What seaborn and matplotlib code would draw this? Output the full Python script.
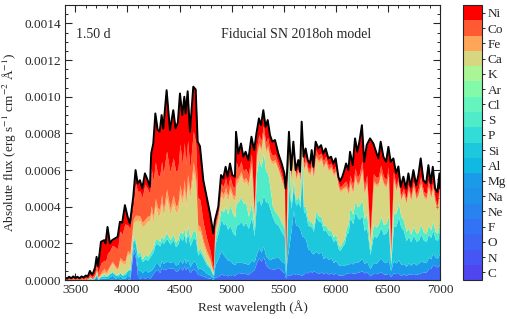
import numpy as np
import seaborn as sns
import matplotlib.pyplot as plt
from matplotlib.colors import ListedColormap, BoundaryNorm
from matplotlib.ticker import MultipleLocator, FormatStrFormatter
import matplotlib as mpl

sns.set_style("ticks")
plt.rcParams['font.family'] = ['Liberation Serif', 'DejaVu Serif']
plt.rcParams['mathtext.fontset'] = 'stix'

# element names (bottom -> top of colorbar)
elements = ['C', 'N', 'O', 'F', 'Ne', 'Na', 'Mg', 'Al', 'Si', 'P',
            'S', 'Cl', 'Ar', 'K', 'Ca', 'Fe', 'Co', 'Ni']
element_colors = ['#5046f0', '#4656f5', '#3c64f5', '#3273f5', '#2882f0', '#1e91eb',
                  '#1a9ae8', '#0fb9e1', '#1ec8dc', '#32dcd7', '#50ebc8', '#64f5be',
                  '#82faaa', '#aaf596', '#d7d782', '#ffa55a', '#ff5a32', '#ff0000']

# rest wavelength (A)
wavelength = [
    3400, 3420, 3440, 3460, 3480, 3500, 3520, 3540, 3560, 3580,
    3600, 3620, 3640, 3660, 3672, 3690, 3704, 3718, 3746, 3778,
    3790, 3809, 3832, 3854, 3880, 3906, 3928, 3950, 3976, 4002,
    4024, 4056, 4078, 4098, 4120, 4142, 4168, 4194, 4216, 4228,
    4248, 4268, 4290, 4310, 4328, 4344, 4376, 4408, 4440, 4462,
    4484, 4504, 4526, 4546, 4558, 4578, 4600, 4632, 4655, 4674,
    4696, 4728, 4760, 4792, 4808, 4824, 4840, 4872, 4898, 4920,
    4942, 4962, 4984, 5006, 5032, 5042, 5064, 5090, 5112, 5134,
    5160, 5190, 5216, 5238, 5262, 5282, 5304, 5326, 5346, 5368,
    5390, 5416, 5448, 5480, 5506, 5518, 5531, 5550, 5570, 5592,
    5614, 5640, 5656, 5672, 5690, 5710, 5730, 5752, 5768, 5784,
    5806, 5832, 5858, 5880, 5902, 5928, 5954, 5976, 5998, 6024,
    6040, 6062, 6082, 6098, 6120, 6136, 6162, 6184, 6206, 6226,
    6250, 6272, 6296, 6328, 6360, 6386, 6408, 6430, 6456, 6482,
    6504, 6526, 6552, 6578, 6600, 6622, 6648, 6674, 6696, 6718,
    6744, 6770, 6792, 6814, 6840, 6866, 6888, 6910, 6930, 6952,
    6974, 6994, 7000]

# total flux (1e-4 erg/s/cm2/A)
total_flux = [
    0.15, 0.08, 0.18, 0.10, 0.20, 0.12, 0.18, 0.10, 0.20, 0.14,
    0.25, 0.20, 0.50, 0.30, 0.40, 0.70, 1.27, 0.75, 2.09, 2.18,
    2.00, 2.90, 2.00, 2.18, 2.27, 2.36, 3.18, 3.13, 4.09, 3.45,
    3.09, 4.55, 6.00, 5.27, 5.45, 5.00, 5.82, 5.45, 5.09, 6.90,
    7.45, 9.09, 8.20, 8.10, 9.00, 8.27, 10.36, 8.18, 9.27, 8.27,
    8.60, 10.18, 9.00, 10.00, 9.09, 10.30, 8.09, 10.55, 10.40, 7.55,
    7.30, 5.45, 4.55, 3.64, 3.10, 2.55, 3.27, 4.00, 5.73, 5.55,
    6.18, 5.64, 6.36, 5.73, 5.64, 8.09, 6.90, 7.45, 6.73, 7.00,
    6.55, 7.82, 7.09, 8.00, 8.82, 8.45, 9.27, 8.36, 8.73, 7.91,
    7.55, 7.64, 6.90, 6.36, 5.82, 5.00, 5.82, 8.09, 6.00, 7.55,
    6.00, 6.55, 5.91, 8.64, 6.73, 7.18, 6.55, 6.36, 7.09, 6.18,
    7.55, 7.18, 7.36, 6.90, 7.18, 6.64, 6.73, 6.36, 6.64, 5.64,
    5.40, 5.64, 6.00, 6.36, 6.00, 7.00, 6.27, 7.73, 7.00, 7.55,
    8.45, 6.45, 7.36, 7.73, 7.45, 7.00, 6.64, 7.55, 6.73, 6.45,
    7.27, 6.45, 6.64, 5.82, 6.20, 5.09, 5.64, 5.00, 5.82, 5.09,
    6.00, 5.18, 5.73, 6.64, 5.45, 5.27, 6.27, 5.27, 6.18, 5.00,
    4.80, 5.82, 5.00]

# share of each element in the flux (percent)
frac_O = [
    0, 0, 0, 0, 0, 0, 0, 0, 0, 0,
    0, 0, 0, 0, 0, 0, 5, 0, 0, 0,
    0, 0, 2, 2, 0, 0, 2, 0, 0, 2,
    2, 35, 20, 3, 2, 3, 2, 3, 2, 3,
    5, 6, 7, 5, 8, 7, 6, 8, 7, 6,
    6, 7, 6, 8, 6, 7, 5, 6, 5, 4,
    4, 4, 3, 3, 2, 2, 5, 5, 6, 5,
    5, 4, 5, 4, 5, 4, 6, 5, 6, 5,
    5, 6, 8, 12, 14, 12, 14, 10, 8, 8,
    8, 8, 10, 8, 6, 2, 5, 3, 5, 5,
    5, 5, 5, 3, 5, 6, 6, 8, 6, 8,
    6, 5, 6, 5, 6, 5, 6, 5, 6, 5,
    5, 5, 5, 6, 6, 6, 6, 5, 6, 6,
    6, 6, 6, 3, 5, 5, 6, 6, 5, 5,
    5, 3, 6, 6, 6, 5, 6, 5, 6, 6,
    6, 6, 6, 6, 8, 8, 10, 12, 14, 15,
    15, 14, 15]
frac_Mg = [
    5, 5, 5, 5, 5, 5, 5, 5, 5, 5,
    5, 5, 10, 5, 10, 15, 10, 5, 5, 5,
    5, 3, 8, 10, 5, 5, 5, 3, 3, 5,
    5, 5, 5, 8, 8, 5, 8, 5, 8, 5,
    4, 4, 4, 4, 4, 4, 4, 4, 4, 4,
    4, 4, 4, 4, 4, 4, 4, 4, 4, 4,
    5, 6, 5, 5, 4, 3, 20, 25, 22, 20,
    15, 15, 12, 12, 10, 8, 8, 8, 8, 8,
    8, 8, 6, 6, 6, 6, 6, 6, 6, 6,
    8, 8, 8, 8, 10, 3, 15, 20, 40, 45,
    45, 40, 42, 25, 30, 25, 20, 18, 15, 15,
    15, 15, 15, 12, 12, 12, 12, 10, 10, 10,
    10, 10, 8, 8, 8, 8, 8, 8, 8, 8,
    8, 8, 8, 5, 8, 8, 10, 10, 10, 10,
    10, 5, 10, 10, 12, 12, 10, 10, 10, 10,
    10, 10, 10, 10, 10, 10, 10, 10, 10, 10,
    10, 10, 10]
frac_Si = [
    5, 5, 5, 5, 5, 5, 5, 5, 5, 5,
    5, 5, 10, 5, 10, 10, 10, 5, 5, 5,
    5, 5, 8, 8, 8, 5, 5, 5, 5, 8,
    10, 10, 8, 12, 15, 12, 10, 12, 15, 12,
    12, 12, 13, 14, 12, 13, 12, 12, 13, 12,
    13, 12, 14, 13, 12, 14, 14, 12, 12, 10,
    12, 12, 10, 10, 8, 5, 35, 35, 30, 30,
    30, 30, 30, 30, 28, 25, 30, 30, 30, 32,
    30, 30, 20, 35, 30, 30, 30, 35, 35, 35,
    30, 25, 25, 25, 25, 5, 25, 40, 20, 18,
    18, 20, 20, 40, 20, 20, 20, 20, 20, 20,
    25, 25, 22, 22, 20, 20, 18, 18, 18, 15,
    15, 18, 20, 25, 30, 35, 35, 35, 35, 30,
    28, 28, 25, 10, 20, 20, 22, 22, 22, 25,
    25, 5, 28, 35, 38, 40, 32, 28, 25, 25,
    25, 25, 22, 22, 22, 22, 20, 22, 20, 20,
    20, 20, 20]
frac_S = [
    0, 0, 0, 0, 0, 0, 0, 0, 0, 0,
    0, 0, 5, 0, 0, 5, 5, 0, 0, 5,
    2, 2, 2, 2, 2, 2, 2, 2, 2, 2,
    3, 3, 3, 4, 4, 3, 4, 4, 4, 4,
    3, 3, 3, 3, 3, 3, 3, 3, 3, 3,
    3, 3, 4, 3, 3, 4, 5, 4, 4, 3,
    3, 3, 3, 2, 2, 1, 10, 10, 10, 12,
    15, 15, 18, 18, 18, 15, 18, 18, 18, 16,
    10, 10, 6, 20, 25, 25, 25, 20, 18, 15,
    8, 8, 8, 8, 8, 2, 8, 20, 5, 5,
    5, 5, 5, 12, 5, 5, 5, 4, 4, 4,
    4, 4, 4, 4, 4, 4, 4, 4, 4, 4,
    4, 4, 5, 5, 8, 8, 8, 8, 8, 10,
    10, 10, 10, 3, 8, 8, 8, 8, 8, 8,
    8, 2, 10, 12, 12, 12, 10, 10, 8, 8,
    8, 8, 8, 8, 8, 8, 8, 8, 8, 8,
    8, 8, 8]
frac_Ca = [
    5, 5, 5, 5, 5, 5, 5, 5, 5, 5,
    5, 5, 5, 5, 5, 5, 10, 5, 5, 5,
    5, 5, 15, 20, 15, 10, 20, 20, 10, 25,
    22, 15, 18, 35, 30, 35, 28, 35, 35, 30,
    18, 20, 16, 18, 20, 15, 18, 17, 18, 20,
    18, 20, 18, 22, 18, 22, 28, 30, 25, 15,
    12, 10, 10, 8, 6, 4, 10, 10, 12, 12,
    12, 12, 12, 14, 16, 12, 16, 16, 16, 16,
    25, 25, 8, 10, 8, 10, 10, 12, 15, 18,
    30, 35, 35, 35, 35, 5, 30, 7, 20, 18,
    18, 20, 18, 10, 28, 32, 38, 40, 42, 42,
    38, 40, 42, 45, 47, 48, 50, 52, 50, 55,
    55, 50, 45, 35, 25, 18, 18, 16, 16, 16,
    18, 20, 22, 5, 30, 32, 32, 30, 32, 30,
    30, 5, 28, 20, 17, 16, 25, 30, 35, 35,
    35, 35, 35, 32, 35, 35, 32, 32, 28, 30,
    25, 30, 28]
frac_Fe = [
    10, 10, 10, 10, 10, 10, 10, 10, 10, 10,
    10, 10, 5, 10, 5, 5, 5, 5, 5, 10,
    5, 5, 5, 5, 5, 5, 5, 5, 5, 5,
    5, 5, 5, 5, 5, 5, 5, 5, 5, 5,
    5, 4, 5, 4, 5, 4, 5, 4, 5, 4,
    4, 5, 4, 5, 4, 5, 4, 5, 4, 4,
    4, 4, 4, 4, 3, 3, 5, 5, 5, 5,
    5, 5, 4, 4, 4, 4, 3, 3, 3, 3,
    3, 3, 2, 2, 2, 2, 2, 2, 2, 2,
    2, 2, 2, 2, 2, 2, 2, 2, 2, 2,
    2, 2, 2, 2, 2, 2, 2, 2, 2, 2,
    2, 2, 2, 2, 2, 2, 2, 2, 2, 2,
    2, 2, 2, 2, 2, 2, 2, 2, 2, 2,
    2, 2, 2, 2, 2, 2, 2, 2, 2, 2,
    2, 2, 2, 2, 2, 2, 2, 2, 2, 2,
    2, 2, 2, 2, 2, 2, 2, 2, 2, 2,
    2, 2, 2]
frac_Co = [
    35, 35, 35, 35, 35, 35, 35, 35, 35, 35,
    35, 35, 25, 35, 30, 20, 25, 30, 25, 20,
    28, 30, 40, 40, 45, 45, 45, 45, 50, 40,
    43, 17, 29, 25, 25, 27, 33, 27, 23, 30,
    25, 22, 22, 22, 20, 24, 20, 24, 22, 23,
    22, 22, 20, 20, 22, 18, 15, 16, 18, 20,
    20, 18, 15, 13, 10, 7, 7, 5, 7, 8,
    8, 8, 8, 8, 8, 12, 7, 7, 7, 7,
    7, 6, 5, 5, 5, 5, 4, 5, 5, 5,
    4, 4, 4, 4, 4, 4, 5, 3, 3, 3,
    3, 3, 3, 3, 4, 4, 3, 3, 4, 3,
    4, 4, 3, 4, 3, 3, 3, 3, 4, 3,
    3, 3, 4, 4, 4, 5, 5, 5, 5, 5,
    5, 5, 5, 4, 5, 5, 5, 5, 5, 5,
    5, 3, 5, 4, 4, 4, 4, 4, 4, 4,
    4, 4, 5, 5, 4, 4, 5, 4, 5, 4,
    5, 4, 4]
frac_Ni = [
    40, 40, 40, 40, 40, 40, 40, 40, 40, 40,
    40, 40, 35, 40, 40, 40, 30, 50, 55, 50,
    50, 50, 20, 13, 20, 28, 16, 20, 25, 13,
    10, 10, 12, 8, 11, 10, 10, 9, 8, 11,
    28, 29, 30, 30, 28, 30, 32, 28, 28, 28,
    30, 27, 30, 25, 31, 26, 25, 23, 28, 40,
    40, 43, 50, 55, 65, 75, 8, 5, 8, 8,
    10, 11, 11, 10, 11, 20, 12, 13, 12, 13,
    12, 12, 45, 10, 10, 10, 9, 10, 11, 11,
    10, 10, 8, 10, 10, 77, 10, 5, 5, 4,
    4, 5, 5, 5, 6, 6, 6, 5, 7, 6,
    6, 5, 6, 6, 6, 6, 5, 6, 6, 6,
    6, 8, 11, 15, 17, 18, 18, 21, 20, 23,
    23, 21, 22, 68, 22, 20, 15, 17, 16, 15,
    15, 75, 11, 11, 9, 9, 11, 11, 10, 10,
    10, 10, 12, 15, 11, 11, 13, 10, 13, 11,
    15, 10, 13]

wl = np.array(wavelength)
flux = np.array(total_flux) * 1e-4
shares = {'O': frac_O, 'Mg': frac_Mg, 'Si': frac_Si, 'S': frac_S,
          'Ca': frac_Ca, 'Fe': frac_Fe, 'Co': frac_Co, 'Ni': frac_Ni}
norm_sum = np.sum([np.array(v, float) for v in shares.values()], axis=0)
layers = []
for el in elements:
    if el in shares:
        layers.append(np.array(shares[el], float) / norm_sum * flux)
    else:
        layers.append(np.zeros_like(flux))

fig = plt.figure(figsize=(5.07, 3.19), dpi=100)
ax = fig.add_axes([0.128, 0.122, 0.740, 0.862])
ax.stackplot(wl, *layers, colors=element_colors, linewidth=0)
sns.lineplot(x=wl, y=flux, ax=ax, color='black', linewidth=1.4)

ax.set_xlim(3400, 7000)
ax.set_ylim(0, 0.0015)
ax.xaxis.set_major_locator(MultipleLocator(500))
ax.xaxis.set_minor_locator(MultipleLocator(100))
ax.yaxis.set_major_locator(MultipleLocator(0.0002))
ax.yaxis.set_minor_locator(MultipleLocator(0.00005))
ax.yaxis.set_major_formatter(FormatStrFormatter('%.4f'))
ax.tick_params(which='both', direction='in', top=True, right=True, labelsize=9.5, pad=3)
ax.tick_params(which='major', length=5, width=0.8)
ax.tick_params(which='minor', length=2.5, width=0.7)
for s in ax.spines.values():
    s.set_linewidth(0.8)
ax.set_xlabel('Rest wavelength (Å)', fontsize=9.5, labelpad=3)
ax.set_ylabel(r'Absolute flux (erg s$^{-1}$ cm$^{-2}$ Å$^{-1}$)', fontsize=9.5, labelpad=4)
ax.text(0.03, 0.88, '1.50 d', transform=ax.transAxes, fontsize=10)
ax.text(0.415, 0.88, 'Fiducial SN 2018oh model', transform=ax.transAxes, fontsize=10)

# discrete colorbar of elements
cmap = ListedColormap(element_colors)
bnorm = BoundaryNorm(np.arange(len(elements) + 1), cmap.N)
cax = fig.add_axes([0.913, 0.122, 0.038, 0.862])
cb = fig.colorbar(mpl.cm.ScalarMappable(norm=bnorm, cmap=cmap), cax=cax)
cb.set_ticks(np.arange(len(elements)) + 0.5)
cb.set_ticklabels(elements)
cb.ax.tick_params(length=2.5, width=0.7, labelsize=9.5, pad=1.5)
cb.ax.minorticks_off()
cb.outline.set_linewidth(0.8)

plt.savefig('out.png', dpi=100)
